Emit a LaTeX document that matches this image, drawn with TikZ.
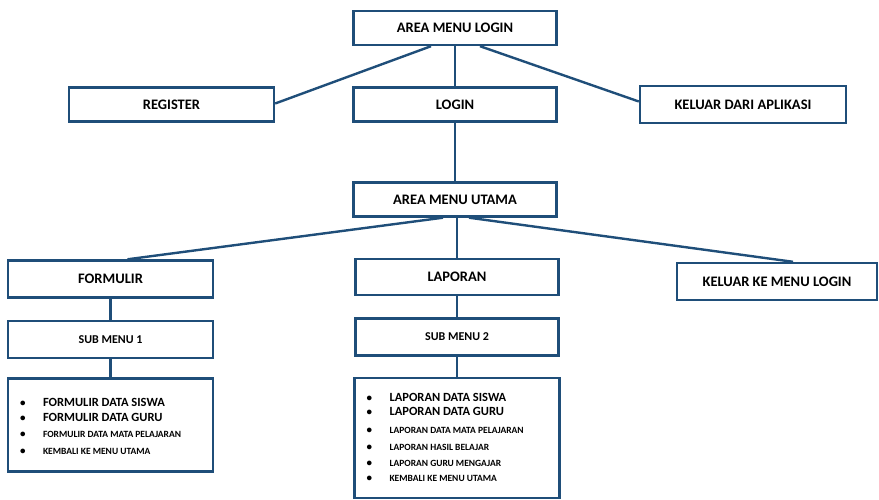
\documentclass[tikz,border=0pt]{standalone}
\usepackage{fontspec}
\setmainfont{Carlito}
\usepackage{tikz}
\usetikzlibrary{positioning}
\definecolor{mblue}{HTML}{1F4E79}
\newcommand{\bul}{\makebox[23pt][l]{\fontsize{11}{12}\selectfont\textbullet}}
\tikzset{
  menu/.style    ={draw=mblue, line width=2.4pt, fill=white, minimum width=203pt,
                   minimum height=34pt, inner sep=2pt, text=black,
                   font=\fontsize{14.5}{16}\selectfont\bfseries},
  submenu/.style ={menu, minimum height=37pt, font=\fontsize{12}{14}\selectfont\bfseries},
  listbox/.style ={draw=mblue, line width=2.4pt, fill=white, minimum width=205pt},
  itbig/.style   ={anchor=base west, inner sep=0pt, font=\fontsize{12.5}{14}\selectfont\bfseries},
  itsmall/.style ={itbig, font=\fontsize{9.5}{10}\selectfont\bfseries},
  link/.style    ={draw=mblue, line width=2.4pt},
}

\begin{document}
\begin{tikzpicture}[x=1pt, y=1pt, node distance=21pt]
  \useasboundingbox (0,0) rectangle (879,-500);
  % login area
  \node[menu] (arealogin) at (455,-28) {AREA MENU LOGIN};
  \node[menu, minimum width=205pt] (register) at (171.5,-104.5) {REGISTER};
  \node[menu] (login) at (455,-104.5) {LOGIN};
  \node[menu, minimum width=206pt, minimum height=37pt] (keluarapp) at (743,-104.5) {KELUAR DARI APLIKASI};
  % main menu
  \node[menu] (utama) at (455,-199.5) {AREA MENU UTAMA};
  \node[menu, minimum width=205pt, minimum height=37pt] (formulir) at (110.5,-279) {FORMULIR};
  \node[menu, minimum height=36pt] (laporan) at (457,-277) {LAPORAN};
  \node[menu, minimum width=200pt, minimum height=37pt] (keluarlogin) at (777,-281.5) {KELUAR KE MENU LOGIN};
  % sub menus
  \node[submenu, minimum width=205pt, below=of formulir] (sub1) {SUB MENU 1};
  \node[submenu, below=of laporan] (sub2) {SUB MENU 2};
  \node[listbox, minimum height=93pt, below=18pt of sub1] (listform) {};
  \node[listbox, minimum height=120pt, below=20pt of sub2] (listlap) {};

  % formulir items
  \node[itbig]   (fm1) at ([shift={(13pt,-29pt)}]listform.north west) {\bul FORMULIR DATA SISWA};
  \node[itbig]   (fm2) at ([shift={(13pt,-44pt)}]listform.north west) {\bul FORMULIR DATA GURU};
  \node[itsmall] (fm3) at ([shift={(13pt,-60pt)}]listform.north west) {\bul FORMULIR DATA MATA PELAJARAN};
  \node[itsmall] (fm4) at ([shift={(13pt,-77pt)}]listform.north west) {\bul KEMBALI KE MENU UTAMA};
  % laporan items
  \node[itbig]   (lp1) at ([shift={(13pt,-25pt)}]listlap.north west) {\bul LAPORAN DATA SISWA};
  \node[itbig]   (lp2) at ([shift={(13pt,-39pt)}]listlap.north west) {\bul LAPORAN DATA GURU};
  \node[itsmall] (lp3) at ([shift={(13pt,-57pt)}]listlap.north west) {\bul LAPORAN DATA MATA PELAJARAN};
  \node[itsmall] (lp4) at ([shift={(13pt,-74pt)}]listlap.north west) {\bul LAPORAN HASIL BELAJAR};
  \node[itsmall] (lp5) at ([shift={(13pt,-90pt)}]listlap.north west) {\bul LAPORAN GURU MENGAJAR};
  \node[itsmall] (lp6) at ([shift={(13pt,-105pt)}]listlap.north west) {\bul KEMBALI KE MENU UTAMA};

  % links
  \draw[link] ([xshift=-24pt]arealogin.south) -- ([yshift=1pt]register.east);
  \draw[link] (arealogin.south) -- (login.north);
  \draw[link] ([xshift=25pt]arealogin.south) -- ([yshift=3pt]keluarapp.west);
  \draw[link] (login.south) -- (utama.north);
  \draw[link] ([xshift=-12pt]utama.south) -- ([xshift=17pt]formulir.north);
  \draw[link] ([xshift=2pt]utama.south) -- (laporan.north);
  \draw[link] ([xshift=14pt]utama.south) -- ([xshift=16pt]keluarlogin.north);
  \draw[link] (formulir.south) -- (sub1.north);
  \draw[link] (sub1.south) -- (listform.north);
  \draw[link] (laporan.south) -- (sub2.north);
  \draw[link] (sub2.south) -- (listlap.north);
\end{tikzpicture}
\end{document}
